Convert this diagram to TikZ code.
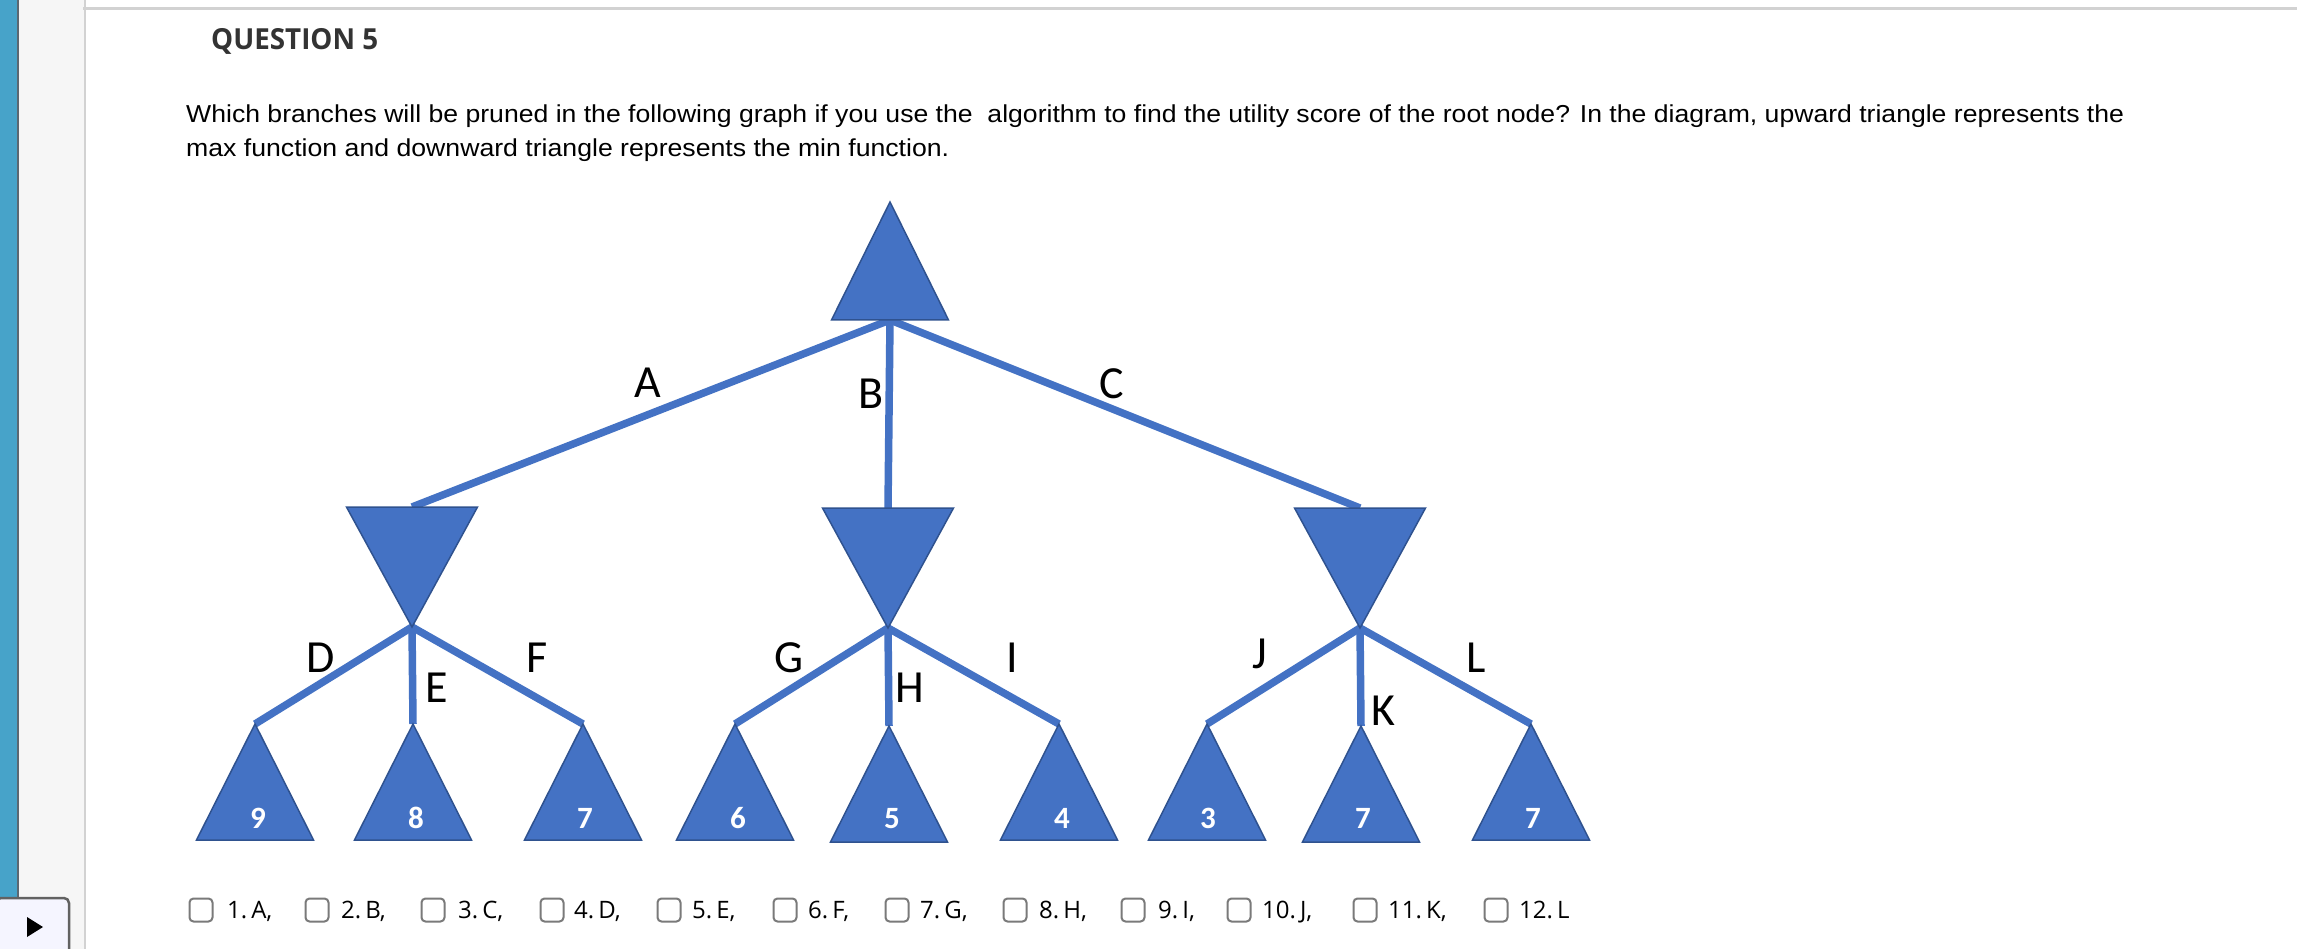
\documentclass[tikz,border=0pt]{standalone}
\usepackage{fontspec}
\usepackage{graphicx}
\newfontfamily\arialf{Liberation Sans}
\newfontfamily\osans{Open Sans}
\newfontfamily\calib{Carlito}
\definecolor{triblue}{HTML}{4472C4}
\definecolor{triedge}{HTML}{2F528F}
\definecolor{barblue}{HTML}{47A3C9}
\definecolor{barline}{HTML}{5B6872}
\definecolor{panel}{HTML}{F6F6F6}
\definecolor{rule}{HTML}{D2D2D2}
\definecolor{boxgray}{HTML}{7A7A7A}
\definecolor{titlegray}{HTML}{333333}
\tikzset{
  rootbox/.style={inner sep=0pt, outer sep=0pt, minimum width=117pt, minimum height=118pt},
  minbox/.style={inner sep=0pt, outer sep=0pt, minimum width=131pt, minimum height=120pt},
  leafbox/.style={inner sep=0pt, outer sep=0pt, minimum width=117pt, minimum height=116pt},
  trifill/.style={fill=triblue, draw=triedge, line width=1.5pt},
  branch/.style={draw=triblue, line width=7.5pt},
  elabel/.style={inner sep=0pt, anchor=base, font=\calib\fontsize{46}{50}\selectfont},
  val/.style={inner sep=0pt, anchor=base, text=white, font=\calib\bfseries\fontsize{31}{36}\selectfont},
  cbox/.style={draw=boxgray, line width=2pt, rounded corners=4pt, minimum width=23pt, minimum height=23pt, inner sep=0pt},
  clabel/.style={inner sep=0pt, anchor=base west, font=\osans\fontsize{24}{28}\selectfont},
}
\begin{document}
\begin{tikzpicture}[x=1pt,y=-1pt]
\useasboundingbox (0,0) rectangle (2297,949);
\fill[white] (0,0) rectangle (2297,949);
% left panel
\fill[panel] (19,0) rectangle (84,949);
\fill[barblue] (0,0) rectangle (17,949);
\fill[barline] (17,0) rectangle (19,949);
\fill[rule] (84,0) rectangle (86,949);
\fill[rule] (83,7) rectangle (2297,10);
\filldraw[fill=white!96!blue, draw=boxgray!80!black, line width=2.5pt, rounded corners=5pt] (-4,898) rectangle (69,955);
\node[inner sep=0pt, minimum width=0pt] (play) at (35,927) {};
\fill[black] (27,917) -- (43,927) -- (27,937) -- cycle;
% title and question
\node[inner sep=0pt, anchor=base west, text=titlegray] (title) at (211,50)
  {\osans\bfseries\fontsize{29}{33}\selectfont\resizebox{167pt}{\height}{QUESTION 5}};
\node[inner sep=0pt, anchor=base west] (q1) at (186,123)
  {\arialf\fontsize{24.5}{29}\selectfont\resizebox{1938pt}{\height}{Which branches will be pruned in the following graph if you use the\ \ algorithm to find the utility score of the root node? In the diagram, upward triangle represents the}};
\node[inner sep=0pt, anchor=base west] (q2) at (186,157)
  {\arialf\fontsize{24.5}{29}\selectfont\resizebox{763pt}{\height}{max function and downward triangle represents the min function.}};
% tree nodes
\node[rootbox] (root) at (890,261) {};
\node[minbox] (m1) at (412,567) {};
\node[minbox] (m2) at (888,568) {};
\node[minbox] (m3) at (1360,568) {};
\node[leafbox] (l1) at (255,782) {};
\node[leafbox] (l2) at (413,782) {};
\node[leafbox] (l3) at (583,782) {};
\node[leafbox] (l4) at (735,782) {};
\node[leafbox] (l5) at (889,784) {};
\node[leafbox] (l6) at (1059,782) {};
\node[leafbox] (l7) at (1207,782) {};
\node[leafbox] (l8) at (1361,784) {};
\node[leafbox] (l9) at (1531,782) {};
% branches
\draw[branch] (root.south) -- (m1.north);
\draw[branch] (root.south) -- (m2.north);
\draw[branch] (root.south) -- (m3.north);
\draw[branch] (m1.south) -- (l1.north);
\draw[branch] (m1.south) -- (l2.north);
\draw[branch] (m1.south) -- (l3.north);
\draw[branch] (m2.south) -- (l4.north);
\draw[branch] (m2.south) -- (l5.north);
\draw[branch] (m2.south) -- (l6.north);
\draw[branch] (m3.south) -- (l7.north);
\draw[branch] (m3.south) -- (l8.north);
\draw[branch] (m3.south) -- (l9.north);
% triangles
\foreach \n in {root,l1,l2,l3,l4,l5,l6,l7,l8,l9}
  \filldraw[trifill] (\n.south west) -- (\n.south east) -- (\n.north) -- cycle;
\foreach \n in {m1,m2,m3}
  \filldraw[trifill] (\n.north west) -- (\n.north east) -- (\n.south) -- cycle;
% branch labels
\node[elabel] (tA) at (648,398) {A};
\node[elabel] (tB) at (871,408) {B};
\node[elabel] (tC) at (1112,399) {C};
\node[elabel] (tD) at (321,672) {D};
\node[elabel] (tE) at (437,702) {E};
\node[elabel] (tF) at (537,672) {F};
\node[elabel] (tG) at (789,672) {G};
\node[elabel] (tH) at (910,702) {H};
\node[elabel] (tI) at (1012,672) {I};
\node[elabel] (tJ) at (1260,668) {J};
\node[elabel] (tK) at (1383,725) {K};
\node[elabel] (tL) at (1476,672) {L};
% leaf values
\node[val] (v1) at (258,828) {9};
\node[val] (v2) at (416,828) {8};
\node[val] (v3) at (585,828) {7};
\node[val] (v4) at (738,828) {6};
\node[val] (v5) at (892,828) {5};
\node[val] (v6) at (1062,828) {4};
\node[val] (v7) at (1208,828) {3};
\node[val] (v8) at (1363,828) {7};
\node[val] (v9) at (1533,828) {7};
% answer choices
\node[cbox] (c1) at (201,910) {};  \node[clabel] (a1) at (227,918) {1.\,A,};
\node[cbox] (c2) at (317,910) {};  \node[clabel] (a2) at (341,918) {2.\,B,};
\node[cbox] (c3) at (433,910) {};  \node[clabel] (a3) at (458,918) {3.\,C,};
\node[cbox] (c4) at (552,910) {};  \node[clabel] (a4) at (574,918) {4.\,D,};
\node[cbox] (c5) at (669,910) {};  \node[clabel] (a5) at (692,918) {5.\,E,};
\node[cbox] (c6) at (785,910) {};  \node[clabel] (a6) at (808,918) {6.\,F,};
\node[cbox] (c7) at (897,910) {};  \node[clabel] (a7) at (920,918) {7.\,G,};
\node[cbox] (c8) at (1015,910) {}; \node[clabel] (a8) at (1039,918) {8.\,H,};
\node[cbox] (c9) at (1133,910) {}; \node[clabel] (a9) at (1158,918) {9.\,I,};
\node[cbox] (c10) at (1239,910) {}; \node[clabel] (a10) at (1262,918) {10.\,J,};
\node[cbox] (c11) at (1365,910) {}; \node[clabel] (a11) at (1388,918) {11.\,K,};
\node[cbox] (c12) at (1496,910) {}; \node[clabel] (a12) at (1519,918) {12.\,L};
\end{tikzpicture}
\end{document}
